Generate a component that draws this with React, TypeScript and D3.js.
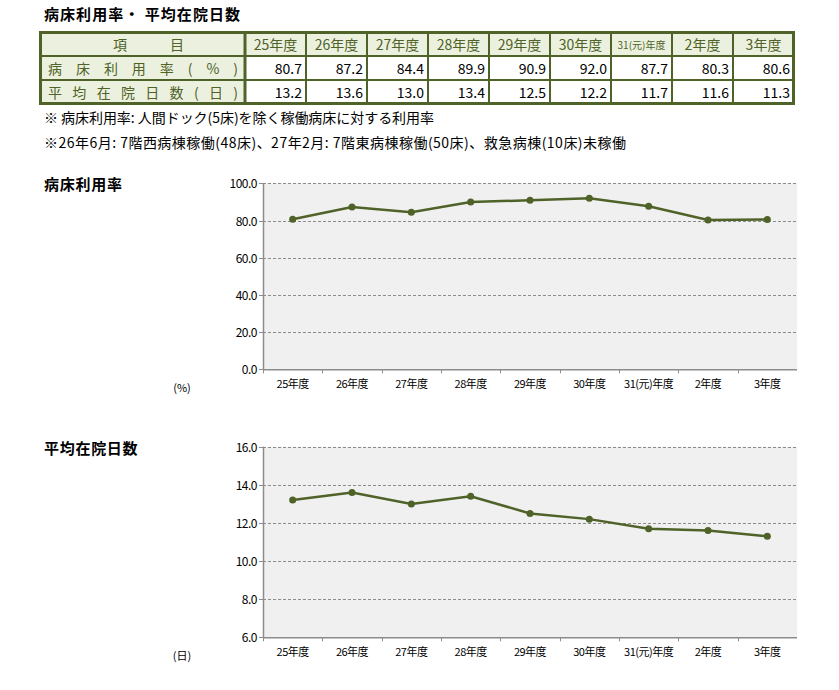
import { useEffect, useRef } from "react";
import * as d3 from "d3";

// ---------------------------------------------------------------------------
// Data
// ---------------------------------------------------------------------------

const YEARS = ["25年度", "26年度", "27年度", "28年度", "29年度", "30年度", "31(元)年度", "2年度", "3年度"];
const BED_RATE = [80.7, 87.2, 84.4, 89.9, 90.9, 92.0, 87.7, 80.3, 80.6];
const AVG_STAY = [13.2, 13.6, 13.0, 13.4, 12.5, 12.2, 11.7, 11.6, 11.3];
const RATE_TICKS = [0, 20, 40, 60, 80, 100];
const STAY_TICKS = [6, 8, 10, 12, 14, 16];

const TITLE = "病床利用率・ 平均在院日数";
const NOTES = [
  "※ 病床利用率: 人間ドック(5床)を除く稼働病床に対する利用率",
  "※26年6月: 7階西病棟稼働(48床)、27年2月: 7階東病棟稼働(50床)、救急病棟(10床)未稼働",
];

// ---------------------------------------------------------------------------
// Palette
// ---------------------------------------------------------------------------

const OLIVE = "#4f6228";
const HEAD_BG = "#ebf1de";
const PLOT_BG = "#f0f0f0";
const GRID = "#8c8c8c";
const AXIS = "#8c8c8c";
const LINE = "#4f6228";
const FONT = "'Noto Sans CJK JP', 'Noto Sans', sans-serif";

const W = 839;
const H = 690;

export default function App() {
  const ref = useRef<SVGSVGElement>(null);

  useEffect(() => {
    const svg = d3.select(ref.current);
    svg.selectAll("*").remove();

    // Title
    svg.append("text")
      .attr("x", 44).attr("y", 20)
      .attr("font-size", 15).attr("font-weight", 700)
      .attr("textLength", 196).attr("lengthAdjust", "spacing")
      .attr("fill", "#000").text(TITLE);

    // ---------------- table ----------------
    const tbl = svg.append("g");
    const colX = d3.scaleBand<string>().domain(YEARS).range([245, 794]);
    const rowY = [32, 56, 80, 104];

    // backgrounds
    tbl.append("rect").attr("x", 40).attr("y", 32).attr("width", 754).attr("height", 24).attr("fill", HEAD_BG);
    tbl.append("rect").attr("x", 40).attr("y", 56).attr("width", 205).attr("height", 48).attr("fill", HEAD_BG);
    tbl.append("rect").attr("x", 245).attr("y", 56).attr("width", 549).attr("height", 48).attr("fill", "#fff");

    // inner lines
    rowY.slice(1, 3).forEach((y) => {
      tbl.append("line").attr("x1", 40).attr("x2", 794).attr("y1", y).attr("y2", y)
        .attr("stroke", OLIVE).attr("stroke-width", 2);
    });
    YEARS.forEach((yr) => {
      const x = colX(yr)!;
      tbl.append("line").attr("x1", x).attr("x2", x).attr("y1", 32).attr("y2", 104)
        .attr("stroke", OLIVE).attr("stroke-width", x === 245 ? 3 : 2);
    });
    tbl.append("rect").attr("x", 40.5).attr("y", 32.5).attr("width", 753).attr("height", 71)
      .attr("fill", "none").attr("stroke", OLIVE).attr("stroke-width", 3);

    // header cells
    tbl.append("text").attr("x", 113).attr("y", 50).attr("font-size", 14).attr("fill", OLIVE).text("項");
    tbl.append("text").attr("x", 170).attr("y", 50).attr("font-size", 14).attr("fill", OLIVE).text("目");
    YEARS.forEach((yr) => {
      const small = yr.includes("元");
      tbl.append("text")
        .attr("x", colX(yr)! + colX.bandwidth() / 2)
        .attr("y", small ? 49 : 50)
        .attr("text-anchor", "middle")
        .attr("font-size", small ? 10 : 14)
        .attr("fill", OLIVE)
        .text(yr);
    });

    // row labels
    const rowLabels = ["病床利用率(%)", "平均在院日数(日)"];
    rowLabels.forEach((lab, i) => {
      tbl.append("text")
        .attr("x", 48).attr("y", rowY[i + 1] + 18)
        .attr("font-size", 14).attr("fill", OLIVE)
        .attr("textLength", 190).attr("lengthAdjust", "spacing")
        .text(lab);
    });

    // values
    [BED_RATE, AVG_STAY].forEach((vals, i) => {
      vals.forEach((v, j) => {
        tbl.append("text")
          .attr("x", colX(YEARS[j])! + colX.bandwidth() - 4)
          .attr("y", rowY[i + 1] + 18)
          .attr("text-anchor", "end")
          .attr("font-size", 14).attr("fill", "#000")
          .text(v.toFixed(1));
      });
    });

    // notes
    const noteLen = [390, 582];
    NOTES.forEach((n, i) => {
      svg.append("text").attr("x", 44).attr("y", 123 + i * 25)
        .attr("font-size", 14).attr("fill", "#000")
        .attr("textLength", noteLen[i]).attr("lengthAdjust", "spacing")
        .text(n);
    });

    // ---------------- charts ----------------
    const drawChart = (
      title: string,
      unit: string,
      values: number[],
      ticks: number[],
      top: number,
      bottom: number,
    ) => {
      const g = svg.append("g");
      const x = d3.scaleBand<string>().domain(YEARS).range([263, 797]);
      const y = d3.scaleLinear().domain([ticks[0], ticks[ticks.length - 1]]).range([bottom, top]);

      g.append("text").attr("x", 44).attr("y", top + 7)
        .attr("font-size", 15).attr("font-weight", 700).attr("fill", "#000")
        .attr("textLength", title.length * 15.6).attr("lengthAdjust", "spacing")
        .text(title);

      g.append("rect").attr("x", 263).attr("y", top).attr("width", 534).attr("height", bottom - top)
        .attr("fill", PLOT_BG);

      ticks.forEach((t) => {
        const yy = Math.round(y(t)) + 0.5;
        if (t !== ticks[0]) {
          g.append("line").attr("x1", 263).attr("x2", 797).attr("y1", yy).attr("y2", yy)
            .attr("stroke", GRID).attr("stroke-width", 1).attr("stroke-dasharray", "3,2");
        }
        g.append("line").attr("x1", 259).attr("x2", 263).attr("y1", yy).attr("y2", yy)
          .attr("stroke", AXIS);
        g.append("text").attr("x", 257).attr("y", yy + 4)
          .attr("text-anchor", "end").attr("font-size", 12).attr("fill", "#000")
          .attr("letter-spacing", -0.5)
          .text(t.toFixed(1));
      });

      // axes
      g.append("line").attr("x1", 263.5).attr("x2", 263.5).attr("y1", top).attr("y2", bottom)
        .attr("stroke", AXIS).attr("stroke-width", 1.5);
      g.append("line").attr("x1", 263).attr("x2", 797).attr("y1", bottom + 0.5).attr("y2", bottom + 0.5)
        .attr("stroke", AXIS).attr("stroke-width", 1.5);

      YEARS.forEach((yr) => {
        const xx = Math.round(x(yr)!) + 0.5;
        g.append("line").attr("x1", xx).attr("x2", xx).attr("y1", bottom).attr("y2", bottom + 4)
          .attr("stroke", AXIS);
        g.append("text")
          .attr("x", x(yr)! + x.bandwidth() / 2).attr("y", bottom + 19)
          .attr("text-anchor", "middle").attr("font-size", 11).attr("fill", "#000")
          .attr("letter-spacing", -0.5)
          .text(yr);
      });

      g.append("text").attr("x", 182).attr("y", bottom + 23)
        .attr("text-anchor", "middle").attr("font-size", 11).attr("fill", "#000").text(unit);

      const line = d3.line<number>()
        .x((_, i) => x(YEARS[i])! + x.bandwidth() / 2)
        .y((d) => y(d));
      g.append("path").datum(values).attr("d", line)
        .attr("fill", "none").attr("stroke", LINE).attr("stroke-width", 2.5);
      g.selectAll("circle.pt").data(values).join("circle")
        .attr("cx", (_, i) => x(YEARS[i])! + x.bandwidth() / 2)
        .attr("cy", (d) => y(d))
        .attr("r", 3.5)
        .attr("fill", LINE);
    };

    drawChart("病床利用率", "(%)", BED_RATE, RATE_TICKS, 183.3, 369.3);
    drawChart("平均在院日数", "(日)", AVG_STAY, STAY_TICKS, 446.7, 637.3);
  }, []);

  return (
    <svg
      ref={ref}
      width={W}
      height={H}
      style={{ position: "absolute", left: 0, top: 0, background: "#fff" }}
      fontFamily={FONT}
    />
  );
}
